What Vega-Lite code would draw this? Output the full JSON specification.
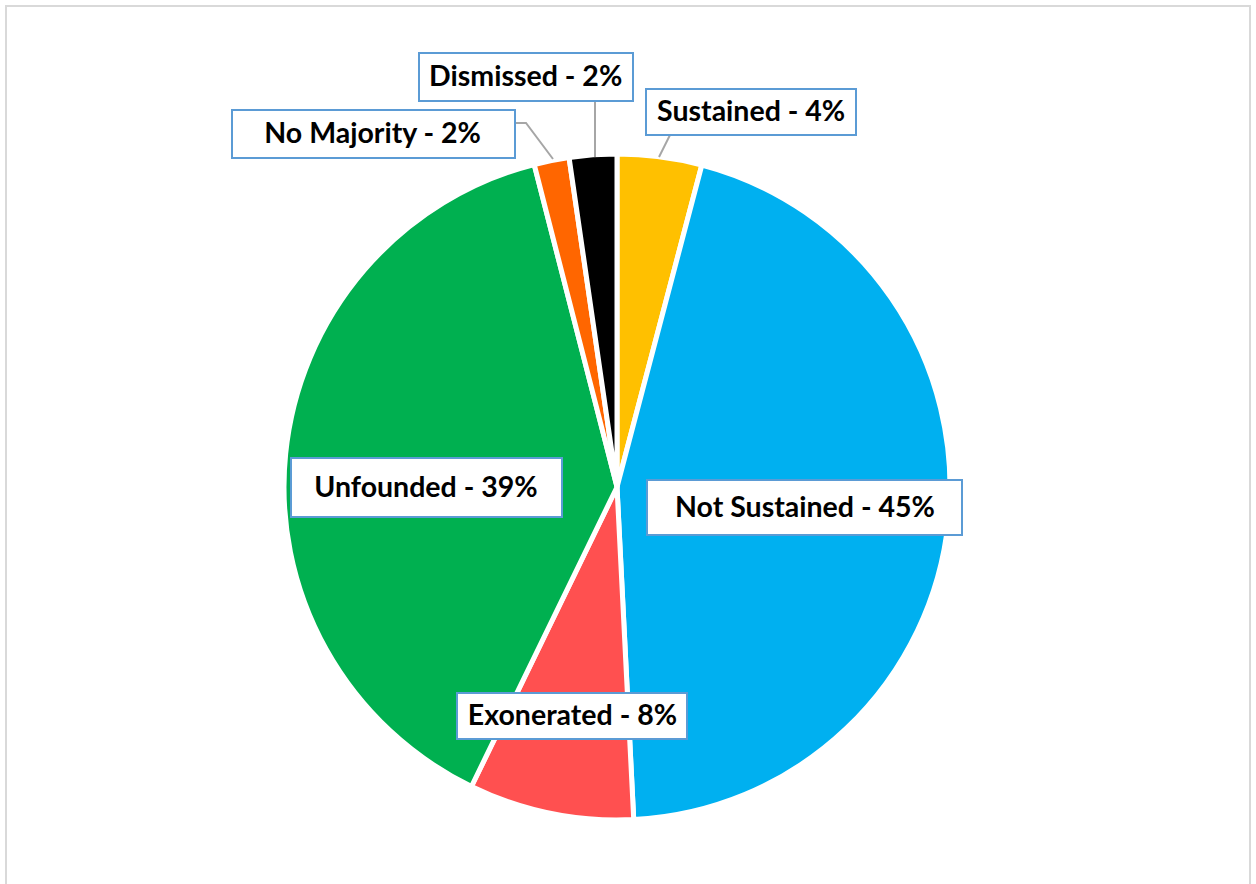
{
  "$schema": "https://vega.github.io/schema/vega-lite/v6.json",
  "width": 1244,
  "height": 884,
  "padding": {"left": 6, "top": 6, "right": 6, "bottom": 0},
  "background": "white",
  "view": {"stroke": "#D9D9D9", "strokeWidth": 2},
  "config": {"view": {"stroke": "#D9D9D9", "strokeWidth": 2}},
  "data": {"values": [
    {"category": "Sustained", "value": 4.1, "order": 1, "label": "Sustained - 4%"},
    {"category": "Not Sustained", "value": 45.1, "order": 2, "label": "Not Sustained - 45%"},
    {"category": "Exonerated", "value": 8.0, "order": 3, "label": "Exonerated - 8%"},
    {"category": "Unfounded", "value": 38.8, "order": 4, "label": "Unfounded - 39%"},
    {"category": "No Majority", "value": 1.7, "order": 5, "label": "No Majority - 2%"},
    {"category": "Dismissed", "value": 2.3, "order": 6, "label": "Dismissed - 2%"}
  ]},
  "resolve": {"scale": {"shape": "independent"}},
  "layer": [
    {
      "mark": {"type": "arc", "radius": 333, "stroke": "white", "strokeWidth": 5, "x": {"expr": "width/2 - 11"}, "y": {"expr": "height/2 + 39"}},
      "encoding": {
        "theta": {"field": "value", "type": "quantitative", "stack": true},
        "order": {"field": "order", "type": "quantitative"},
        "color": {"field": "category", "type": "nominal", "legend": null,
          "scale": {"domain": ["Sustained", "Not Sustained", "Exonerated", "Unfounded", "No Majority", "Dismissed"],
                    "range": ["#FFC000", "#00B0F0", "#FF5050", "#00B050", "#FF6600", "#000000"]}}
      }
    },
    {
      "transform": [{"filter": {"field": "category", "oneOf": ["Sustained", "Dismissed", "No Majority"]}}],
      "mark": {"type": "point", "filled": false, "fill": null, "stroke": "#A6A6A6", "strokeWidth": 2, "size": 4, "opacity": 1, "x": {"expr": "width/2 - 11"}, "y": {"expr": "height/2 + 39"}},
      "encoding": {
        "shape": {"field": "category", "type": "nominal", "legend": null,
          "scale": {"domain": ["Sustained", "Dismissed", "No Majority"],
                    "range": ["M53,-352L42,-330", "M-22,-386L-22,-330", "M-102,-364L-91,-364L-64,-328"]}}
      }
    },
    {
      "mark": {"type": "point", "filled": true, "fill": "white", "stroke": "#5B9BD5", "strokeWidth": 2, "size": 4, "opacity": 1, "x": {"expr": "width/2 - 11"}, "y": {"expr": "height/2 + 39"}},
      "encoding": {
        "shape": {"field": "category", "type": "nominal", "legend": null,
          "scale": {"domain": ["Sustained", "Not Sustained", "Exonerated", "Unfounded", "No Majority", "Dismissed"],
                    "range": [
                      "M29,-398H239V-352H29Z",
                      "M30,-7H345V48H30Z",
                      "M-160,206H70V252H-160Z",
                      "M-326,-29H-55V30H-326Z",
                      "M-385,-377H-102V-329H-385Z",
                      "M-198,-434H16V-386H-198Z"
                    ]}}
      }
    },
    {
      "mark": {"type": "text", "radius": 398, "dx": 83, "dy": 20, "font": "Lato", "fontWeight": "bold", "fontSize": 28.5, "color": "black", "align": "center", "baseline": "middle", "x": {"expr": "width/2 - 11"}, "y": {"expr": "height/2 + 39"}},
      "encoding": {
        "theta": {"field": "value", "type": "quantitative", "stack": true},
        "order": {"field": "order", "type": "quantitative"},
        "detail": {"field": "category", "type": "nominal"},
        "text": {"condition": {"test": "datum.category === 'Sustained'", "field": "label", "type": "nominal"}, "value": ""}
      }
    },
    {
      "mark": {"type": "text", "radius": 189, "dx": 0, "dy": 1, "font": "Lato", "fontWeight": "bold", "fontSize": 28.5, "color": "black", "align": "center", "baseline": "middle", "x": {"expr": "width/2 - 11"}, "y": {"expr": "height/2 + 39"}},
      "encoding": {
        "theta": {"field": "value", "type": "quantitative", "stack": true},
        "order": {"field": "order", "type": "quantitative"},
        "detail": {"field": "category", "type": "nominal"},
        "text": {"condition": {"test": "datum.category === 'Not Sustained'", "field": "label", "type": "nominal"}, "value": ""}
      }
    },
    {
      "mark": {"type": "text", "radius": 233, "dx": 2, "dy": 1, "font": "Lato", "fontWeight": "bold", "fontSize": 28.5, "color": "black", "align": "center", "baseline": "middle", "x": {"expr": "width/2 - 11"}, "y": {"expr": "height/2 + 39"}},
      "encoding": {
        "theta": {"field": "value", "type": "quantitative", "stack": true},
        "order": {"field": "order", "type": "quantitative"},
        "detail": {"field": "category", "type": "nominal"},
        "text": {"condition": {"test": "datum.category === 'Exonerated'", "field": "label", "type": "nominal"}, "value": ""}
      }
    },
    {
      "mark": {"type": "text", "radius": 192, "dx": 0, "dy": 20, "font": "Lato", "fontWeight": "bold", "fontSize": 28.5, "color": "black", "align": "center", "baseline": "middle", "x": {"expr": "width/2 - 11"}, "y": {"expr": "height/2 + 39"}},
      "encoding": {
        "theta": {"field": "value", "type": "quantitative", "stack": true},
        "order": {"field": "order", "type": "quantitative"},
        "detail": {"field": "category", "type": "nominal"},
        "text": {"condition": {"test": "datum.category === 'Unfounded'", "field": "label", "type": "nominal"}, "value": ""}
      }
    },
    {
      "mark": {"type": "text", "radius": 429, "dx": -160, "dy": 68, "font": "Lato", "fontWeight": "bold", "fontSize": 28.5, "color": "black", "align": "center", "baseline": "middle", "x": {"expr": "width/2 - 11"}, "y": {"expr": "height/2 + 39"}},
      "encoding": {
        "theta": {"field": "value", "type": "quantitative", "stack": true},
        "order": {"field": "order", "type": "quantitative"},
        "detail": {"field": "category", "type": "nominal"},
        "text": {"condition": {"test": "datum.category === 'No Majority'", "field": "label", "type": "nominal"}, "value": ""}
      }
    },
    {
      "mark": {"type": "text", "radius": 420, "dx": -61, "dy": 9, "font": "Lato", "fontWeight": "bold", "fontSize": 28.5, "color": "black", "align": "center", "baseline": "middle", "x": {"expr": "width/2 - 11"}, "y": {"expr": "height/2 + 39"}},
      "encoding": {
        "theta": {"field": "value", "type": "quantitative", "stack": true},
        "order": {"field": "order", "type": "quantitative"},
        "detail": {"field": "category", "type": "nominal"},
        "text": {"condition": {"test": "datum.category === 'Dismissed'", "field": "label", "type": "nominal"}, "value": ""}
      }
    }
  ]
}
